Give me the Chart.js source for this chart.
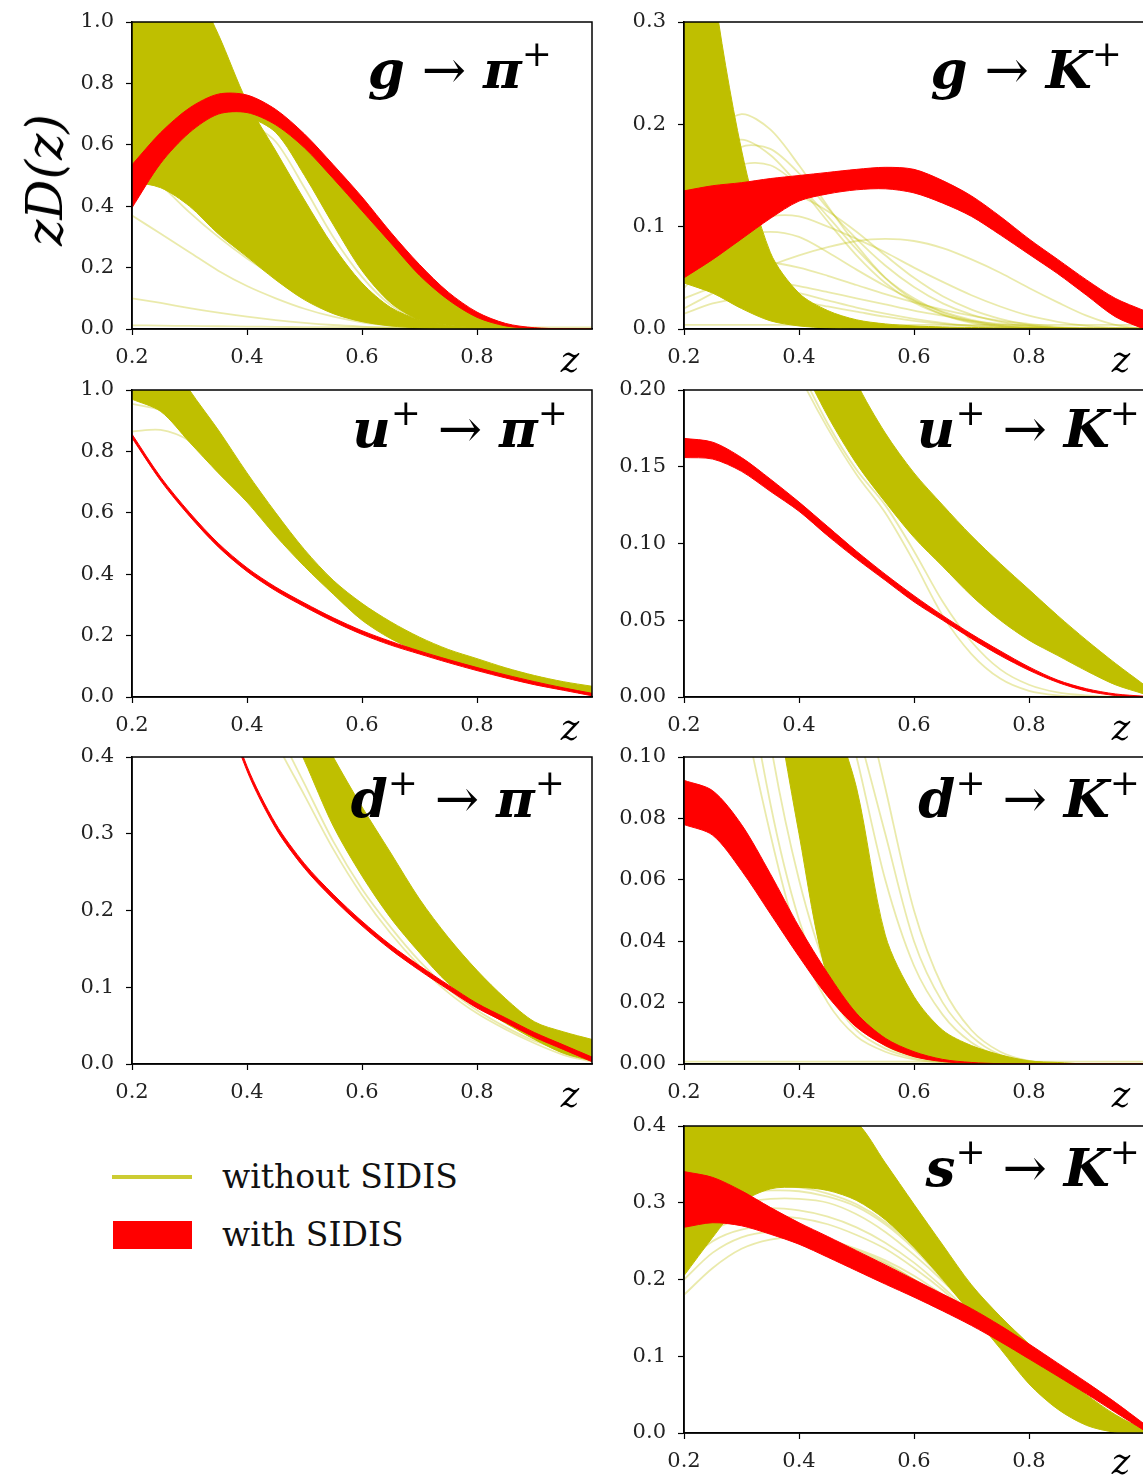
<!DOCTYPE html>
<html>
<head>
<meta charset="utf-8">
<script src="https://cdn.jsdelivr.net/npm/chart.js@4.4.1/dist/chart.umd.min.js"></script>
<style>
  html, body { margin: 0; padding: 0; background: #fff; }
  body { position: relative; width: 1143px; height: 1477px; overflow: hidden; }
  .panel { position: absolute; }
  .ttl { position: absolute; font-family: 'DejaVu Serif', serif; font-size: 53px; line-height: 1; white-space: nowrap; color: #000; }
  .ttl .m { font-weight: bold; font-style: italic; }
  .ttl sup { font-size: 0.68em; vertical-align: 0.6em; line-height: 0; }
  .zlab { position: absolute; font-family: 'DejaVu Serif', serif; font-style: italic; font-size: 35px; line-height: 1; color: #000; transform: translateX(-50%); }
  .ylab { position: absolute; left: 45px; top: 180px; font-family: 'DejaVu Serif', serif; font-style: italic; font-size: 50px; line-height: 1; white-space: nowrap; transform: translate(-50%, -50%) rotate(-90deg); }
  .leg { position: absolute; font-family: 'DejaVu Serif', serif; font-size: 33px; line-height: 1; white-space: nowrap; color: #111; }
</style>
</head>
<body>

<div class="ylab">zD(z)</div>

<div class="ttl" style="right:591px;top:43px"><span class="m">g</span> → <span class="m">π</span><sup>+</sup></div>
<div class="ttl" style="right:21px;top:43px"><span class="m">g</span> → <span class="m">K</span><sup>+</sup></div>
<div class="ttl" style="right:575px;top:402px"><span class="m">u</span><sup>+</sup> → <span class="m">π</span><sup>+</sup></div>
<div class="ttl" style="right:3px;top:402px"><span class="m">u</span><sup>+</sup> → <span class="m">K</span><sup>+</sup></div>
<div class="ttl" style="right:578px;top:772px"><span class="m">d</span><sup>+</sup> → <span class="m">π</span><sup>+</sup></div>
<div class="ttl" style="right:3px;top:772px"><span class="m">d</span><sup>+</sup> → <span class="m">K</span><sup>+</sup></div>
<div class="ttl" style="right:3px;top:1141px"><span class="m">s</span><sup>+</sup> → <span class="m">K</span><sup>+</sup></div>

<div class="zlab" style="left:570px;top:343px">z</div>
<div class="zlab" style="left:1121px;top:343px">z</div>
<div class="zlab" style="left:570px;top:711px">z</div>
<div class="zlab" style="left:1121px;top:711px">z</div>
<div class="zlab" style="left:570px;top:1078px">z</div>
<div class="zlab" style="left:1121px;top:1078px">z</div>
<div class="zlab" style="left:1121px;top:1445px">z</div>

<!-- legend -->
<div style="position:absolute;left:112px;top:1175px;width:80px;height:4px;background:rgba(191,191,0,0.8)"></div>
<div class="leg" style="left:222px;top:1160px">without SIDIS</div>
<div style="position:absolute;left:113px;top:1221px;width:79px;height:28px;background:#ff0000"></div>
<div class="leg" style="left:222px;top:1218px">with SIDIS</div>

<script>
// common z grid
const zGrid = [0.2, 0.25, 0.3, 0.35, 0.4, 0.45, 0.5, 0.55, 0.6, 0.65, 0.7, 0.75, 0.8, 0.85, 0.9, 0.95, 1.0];

// ---- g -> pi+ ----
const gPiRedHi = [0.535, 0.64, 0.72, 0.765, 0.762, 0.715, 0.635, 0.535, 0.43, 0.315, 0.21, 0.12, 0.055, 0.018, 0.004, 0.001, 0];
const gPiRedLo = [0.395, 0.54, 0.64, 0.70, 0.705, 0.665, 0.59, 0.49, 0.385, 0.28, 0.175, 0.095, 0.038, 0.01, 0.002, 0, 0];
const gPiOliveHi = [1.4, 1.3, 1.15, 0.96, 0.74, 0.58, 0.42, 0.27, 0.15, 0.07, 0.03, 0.011, 0.003, 0, 0, 0, 0];
const gPiOliveLo = [0.48, 0.46, 0.40, 0.31, 0.235, 0.16, 0.095, 0.05, 0.024, 0.01, 0.004, 0.001, 0, 0, 0, 0, 0];
const gPiStripHi = [0.5, 0.6, 0.68, 0.72, 0.72, 0.68, 0.6, 0.5, 0.395, 0.29, 0.185, 0.1, 0.042, 0.012, 0.003, 0.001, 0];
const gPiStripLo = [0.45, 0.55, 0.64, 0.69, 0.69, 0.64, 0.5, 0.34, 0.19, 0.085, 0.03, 0.012, 0.004, 0.001, 0, 0, 0];
const gPiRep1 = [0.37, 0.31, 0.25, 0.19, 0.14, 0.1, 0.066, 0.04, 0.022, 0.011, 0.005, 0.002, 0.0005, 0, 0, 0, 0];
const gPiRep2 = [0.1, 0.085, 0.068, 0.053, 0.04, 0.029, 0.02, 0.013, 0.008, 0.004, 0.002, 0.001, 0, 0, 0, 0, 0];
const gPiRep3 = [0.012, 0.011, 0.01, 0.009, 0.008, 0.007, 0.006, 0.006, 0.005, 0.005, 0.005, 0.005, 0.005, 0.005, 0.005, 0.005, 0.005];
const gPiRep4 = [0.55, 0.47, 0.38, 0.3, 0.23, 0.17, 0.12, 0.08, 0.05, 0.028, 0.014, 0.006, 0.002, 0, 0, 0, 0];
const gPiRep5 = [0.6, 0.52, 0.44, 0.36, 0.29, 0.22, 0.16, 0.11, 0.07, 0.04, 0.02, 0.008, 0.003, 0.001, 0, 0, 0];
const gPiRep6 = [0.95, 0.9, 0.84, 0.76, 0.68, 0.61, 0.46, 0.3, 0.17, 0.078, 0.03, 0.01, 0.003, 0.001, 0, 0, 0];

// ---- g -> K+ ----
const gKRedHi = [0.135, 0.14, 0.143, 0.147, 0.15, 0.153, 0.156, 0.158, 0.156, 0.145, 0.13, 0.11, 0.088, 0.068, 0.048, 0.03, 0.018];
const gKRedLo = [0.05, 0.068, 0.088, 0.108, 0.125, 0.132, 0.136, 0.137, 0.133, 0.123, 0.11, 0.092, 0.073, 0.054, 0.033, 0.012, 0];
const gKOliveHi = [0.6, 0.34, 0.175, 0.075, 0.035, 0.018, 0.009, 0.005, 0.003, 0.002, 0.0015, 0.001, 0.001, 0.001, 0.001, 0.001, 0.001];
const gKOliveLo = [0.045, 0.035, 0.02, 0.008, 0.003, 0.001, 0, 0, 0, 0, 0, 0, 0, 0, 0, 0, 0];
const gKRep1 = [0.13, 0.19, 0.21, 0.195, 0.16, 0.12, 0.082, 0.05, 0.028, 0.014, 0.006, 0.002, 0.001, 0, 0, 0, 0];
const gKRep2 = [0.1, 0.15, 0.178, 0.176, 0.152, 0.118, 0.088, 0.062, 0.041, 0.025, 0.014, 0.007, 0.003, 0.001, 0, 0, 0];
const gKRep3 = [0.08, 0.13, 0.16, 0.16, 0.14, 0.11, 0.078, 0.05, 0.03, 0.016, 0.008, 0.003, 0.001, 0, 0, 0, 0];
const gKRep4 = [0.06, 0.08, 0.1, 0.11, 0.11, 0.1, 0.088, 0.075, 0.06, 0.046, 0.033, 0.022, 0.013, 0.007, 0.003, 0.001, 0];
const gKRep5 = [0.02, 0.035, 0.05, 0.062, 0.072, 0.08, 0.086, 0.088, 0.086, 0.079, 0.068, 0.055, 0.04, 0.026, 0.013, 0.004, 0];
const gKRep6 = [0.045, 0.05, 0.05, 0.047, 0.042, 0.036, 0.03, 0.024, 0.018, 0.013, 0.008, 0.005, 0.003, 0.001, 0, 0, 0];
const gKRep7 = [0.04, 0.07, 0.09, 0.095, 0.09, 0.075, 0.058, 0.042, 0.028, 0.017, 0.009, 0.004, 0.002, 0.001, 0, 0, 0];
const gKRep8 = [0.004, 0.004, 0.004, 0.004, 0.004, 0.004, 0.004, 0.004, 0.004, 0.004, 0.004, 0.004, 0.004, 0.004, 0.004, 0.004, 0.004];
const gKRep9 = [0.12, 0.17, 0.185, 0.17, 0.14, 0.105, 0.072, 0.045, 0.026, 0.014, 0.007, 0.003, 0.001, 0, 0, 0, 0];
const gKRep10 = [0.07, 0.1, 0.125, 0.135, 0.13, 0.115, 0.095, 0.072, 0.05, 0.032, 0.019, 0.01, 0.004, 0.001, 0, 0, 0];
const gKRep11 = [0.03, 0.04, 0.042, 0.04, 0.035, 0.028, 0.021, 0.015, 0.01, 0.006, 0.003, 0.001, 0, 0, 0, 0, 0];
const gKRep12 = [0.015, 0.025, 0.03, 0.03, 0.027, 0.022, 0.017, 0.012, 0.008, 0.005, 0.003, 0.002, 0.001, 0, 0, 0, 0];
const gKRep13 = [0.05, 0.06, 0.065, 0.065, 0.06, 0.052, 0.043, 0.034, 0.026, 0.019, 0.013, 0.008, 0.005, 0.002, 0.001, 0, 0];

// ---- u+ -> pi+ ----
const uPiRedHi = [0.856, 0.716, 0.601, 0.501, 0.421, 0.358, 0.306, 0.258, 0.216, 0.181, 0.15, 0.122, 0.096, 0.072, 0.05, 0.03, 0.012];
const uPiRedLo = [0.844, 0.704, 0.589, 0.489, 0.409, 0.346, 0.294, 0.246, 0.204, 0.169, 0.14, 0.112, 0.086, 0.062, 0.04, 0.022, 0.004];
const uPiOliveHi = [1.3, 1.15, 1.0, 0.87, 0.73, 0.6, 0.48, 0.38, 0.305, 0.245, 0.195, 0.155, 0.125, 0.095, 0.07, 0.05, 0.035];
const uPiOliveLo = [0.97, 0.93, 0.83, 0.73, 0.635, 0.525, 0.425, 0.335, 0.25, 0.19, 0.148, 0.117, 0.091, 0.068, 0.046, 0.027, 0.012];
const uPiRep1 = [0.955, 0.935, 0.89, 0.8, 0.69, 0.57, 0.46, 0.36, 0.27, 0.2, 0.15, 0.118, 0.091, 0.068, 0.046, 0.027, 0.012];
const uPiRep2 = [0.865, 0.87, 0.835, 0.76, 0.665, 0.555, 0.45, 0.355, 0.265, 0.195, 0.148, 0.117, 0.091, 0.068, 0.046, 0.027, 0.012];

// ---- u+ -> K+ ----
const uKRedHi = [0.1685, 0.166, 0.156, 0.142, 0.127, 0.111, 0.095, 0.08, 0.066, 0.053, 0.041, 0.03, 0.0196, 0.011, 0.0054, 0.002, 0.0005];
const uKRedLo = [0.156, 0.155, 0.147, 0.134, 0.121, 0.105, 0.09, 0.076, 0.062, 0.05, 0.038, 0.027, 0.0174, 0.0095, 0.0039, 0.001, 0];
const uKOliveHi = [0.5, 0.44, 0.39, 0.34, 0.3, 0.25, 0.205, 0.172, 0.146, 0.125, 0.105, 0.087, 0.07, 0.053, 0.037, 0.022, 0.008];
const uKOliveLo = [0.4, 0.35, 0.3, 0.26, 0.22, 0.183, 0.152, 0.127, 0.104, 0.085, 0.066, 0.05, 0.037, 0.027, 0.017, 0.008, 0.002];
const uKRep1 = [0.4, 0.34, 0.29, 0.25, 0.21, 0.175, 0.145, 0.12, 0.088, 0.053, 0.028, 0.012, 0.004, 0.001, 0, 0, 0];
const uKRep2 = [0.41, 0.35, 0.3, 0.255, 0.215, 0.178, 0.148, 0.125, 0.095, 0.062, 0.036, 0.018, 0.008, 0.003, 0.001, 0, 0];

// ---- d+ -> pi+ ----
const dPiRedHi = [1.053, 0.823, 0.638, 0.498, 0.388, 0.313, 0.261, 0.221, 0.186, 0.155, 0.128, 0.103, 0.079, 0.06, 0.041, 0.025, 0.009];
const dPiRedLo = [1.047, 0.817, 0.632, 0.492, 0.382, 0.307, 0.255, 0.215, 0.18, 0.149, 0.122, 0.097, 0.073, 0.054, 0.035, 0.019, 0.003];
const dPiOliveHi = [1.3, 1.1, 0.9, 0.74, 0.62, 0.54, 0.47, 0.4, 0.335, 0.275, 0.215, 0.165, 0.122, 0.085, 0.055, 0.042, 0.032];
const dPiOliveLo = [1.0, 0.86, 0.74, 0.64, 0.55, 0.475, 0.395, 0.31, 0.245, 0.19, 0.145, 0.105, 0.076, 0.053, 0.032, 0.014, 0.004];
const dPiRep1 = [0.95, 0.8, 0.68, 0.58, 0.5, 0.42, 0.35, 0.28, 0.22, 0.17, 0.128, 0.093, 0.066, 0.045, 0.027, 0.012, 0.003];
const dPiRep2 = [0.98, 0.83, 0.7, 0.6, 0.52, 0.44, 0.365, 0.29, 0.228, 0.178, 0.134, 0.098, 0.07, 0.048, 0.03, 0.018, 0.012];

// ---- d+ -> K+ ----
const dKRedHi = [0.0924, 0.089, 0.078, 0.062, 0.0447, 0.0295, 0.0165, 0.0084, 0.004, 0.0015, 0.0005, 0.0001, 0, 0, 0, 0, 0];
const dKRedLo = [0.078, 0.0745, 0.063, 0.049, 0.035, 0.022, 0.012, 0.006, 0.0024, 0.0008, 0.0002, 0, 0, 0, 0, 0, 0];
const dKOliveHi = [0.6, 0.45, 0.32, 0.22, 0.16, 0.12, 0.09, 0.042, 0.022, 0.011, 0.006, 0.003, 0.001, 0.0005, 0, 0, 0];
const dKOliveLo = [0.45, 0.3, 0.2, 0.13, 0.075, 0.028, 0.014, 0.006, 0.0025, 0.001, 0.0003, 0, 0, 0, 0, 0, 0];
const dKRep1 = [0.35, 0.22, 0.14, 0.085, 0.047, 0.024, 0.011, 0.005, 0.002, 0.0007, 0, 0, 0, 0, 0, 0, 0];
const dKRep2 = [0.4, 0.26, 0.17, 0.105, 0.06, 0.03, 0.014, 0.006, 0.0025, 0.001, 0.0003, 0, 0, 0, 0, 0, 0];
const dKRep3 = [0.9, 0.6, 0.4, 0.27, 0.19, 0.14, 0.11, 0.075, 0.04, 0.02, 0.009, 0.003, 0.001, 0, 0, 0, 0];
const dKRep4 = [1.0, 0.7, 0.48, 0.33, 0.23, 0.17, 0.13, 0.09, 0.05, 0.025, 0.011, 0.004, 0.001, 0, 0, 0, 0];
const dKRep5 = [0.9, 0.6, 0.4, 0.27, 0.19, 0.135, 0.1, 0.06, 0.032, 0.016, 0.007, 0.0025, 0.0008, 0, 0, 0, 0];
const dKRep6 = [0.0008, 0.0008, 0.0008, 0.0008, 0.0008, 0.0008, 0.0008, 0.0008, 0.0008, 0.0008, 0.0008, 0.0008, 0.0008, 0.0008, 0.0008, 0.0008, 0.0008];
const dKRep7 = [0.3, 0.19, 0.12, 0.075, 0.04, 0.02, 0.009, 0.004, 0.0015, 0.0005, 0, 0, 0, 0, 0, 0, 0];

// ---- s+ -> K+ ----
const sKRedHi = [0.3406, 0.333, 0.3155, 0.294, 0.274, 0.256, 0.2375, 0.219, 0.2, 0.181, 0.162, 0.14, 0.116, 0.091, 0.066, 0.04, 0.012];
const sKRedLo = [0.268, 0.274, 0.27, 0.259, 0.246, 0.229, 0.2115, 0.194, 0.177, 0.159, 0.14, 0.119, 0.0966, 0.074, 0.051, 0.027, 0.0035];
const sKOliveHi = [0.45, 0.45, 0.45, 0.44, 0.43, 0.42, 0.405, 0.352, 0.298, 0.245, 0.193, 0.152, 0.116, 0.082, 0.05, 0.024, 0.004];
const sKOliveLo = [0.205, 0.255, 0.3, 0.318, 0.32, 0.316, 0.303, 0.278, 0.242, 0.2, 0.155, 0.11, 0.064, 0.031, 0.01, 0.001, 0];
const sKRep1 = [0.18, 0.215, 0.24, 0.252, 0.255, 0.25, 0.238, 0.222, 0.2, 0.175, 0.147, 0.118, 0.088, 0.058, 0.03, 0.01, 0];
const sKRep2 = [0.2, 0.235, 0.255, 0.262, 0.26, 0.252, 0.24, 0.225, 0.205, 0.18, 0.152, 0.122, 0.09, 0.06, 0.032, 0.012, 0];
const sKRep3 = [0.22, 0.25, 0.265, 0.268, 0.262, 0.25, 0.236, 0.22, 0.2, 0.177, 0.15, 0.12, 0.089, 0.059, 0.031, 0.011, 0];
const sKRep4 = [0.27, 0.29, 0.3, 0.305, 0.305, 0.3, 0.285, 0.262, 0.232, 0.198, 0.16, 0.12, 0.08, 0.045, 0.018, 0.004, 0];
const sKRep5 = [0.28, 0.3, 0.312, 0.316, 0.315, 0.308, 0.295, 0.272, 0.24, 0.2, 0.158, 0.115, 0.072, 0.036, 0.012, 0.002, 0];
const sKRep6 = [0.26, 0.28, 0.29, 0.293, 0.29, 0.282, 0.268, 0.248, 0.222, 0.19, 0.155, 0.118, 0.082, 0.048, 0.02, 0.005, 0];
const sKRep7 = [0.285, 0.305, 0.318, 0.322, 0.32, 0.312, 0.298, 0.275, 0.243, 0.203, 0.16, 0.116, 0.072, 0.035, 0.011, 0.002, 0];
const sKRep8 = [0.24, 0.265, 0.278, 0.282, 0.28, 0.272, 0.258, 0.24, 0.215, 0.186, 0.152, 0.117, 0.082, 0.048, 0.021, 0.006, 0];

const OLIVE = '#bfbf00';
const OLIVE_FAINT = 'rgba(191,191,0,0.33)';
const RED = '#ff0000';

// panel setup: plot box (left, top) in page pixels, y range, step, decimals
const panels = [
  { left: 132, top: 22,   yMax: 1.0, step: 0.2,  dec: 1, red: [gPiRedHi, gPiRedLo], olive: [[gPiOliveHi, gPiOliveLo], [gPiStripHi, gPiStripLo]], reps: [gPiRep1, gPiRep2, gPiRep3, gPiRep4, gPiRep5, gPiRep6] },
  { left: 684, top: 22,   yMax: 0.3, step: 0.1,  dec: 1, red: [gKRedHi, gKRedLo], olive: [[gKOliveHi, gKOliveLo]], reps: [gKRep1, gKRep2, gKRep3, gKRep4, gKRep5, gKRep6, gKRep7, gKRep8, gKRep9, gKRep10, gKRep11, gKRep12, gKRep13] },
  { left: 132, top: 390,  yMax: 1.0, step: 0.2,  dec: 1, red: [uPiRedHi, uPiRedLo], olive: [[uPiOliveHi, uPiOliveLo]], reps: [uPiRep1, uPiRep2] },
  { left: 684, top: 390,  yMax: 0.2, step: 0.05, dec: 2, red: [uKRedHi, uKRedLo], olive: [[uKOliveHi, uKOliveLo]], reps: [uKRep1, uKRep2] },
  { left: 132, top: 757,  yMax: 0.4, step: 0.1,  dec: 1, red: [dPiRedHi, dPiRedLo], olive: [[dPiOliveHi, dPiOliveLo]], reps: [dPiRep1, dPiRep2] },
  { left: 684, top: 757,  yMax: 0.1, step: 0.02, dec: 2, red: [dKRedHi, dKRedLo], olive: [[dKOliveHi, dKOliveLo]], reps: [dKRep1, dKRep2, dKRep3, dKRep4, dKRep5, dKRep6, dKRep7] },
  { left: 684, top: 1126, yMax: 0.4, step: 0.1,  dec: 1, red: [sKRedHi, sKRedLo], olive: [[sKOliveHi, sKOliveLo]], reps: [sKRep1, sKRep2, sKRep3, sKRep4, sKRep5, sKRep6, sKRep7, sKRep8] }
];

const PLOT_W = 460, PLOT_H = 307;
// room around the plot box; top is wide enough for the top tick label
const PAD_L = 70, PAD_T = 32, PAD_R = 10, PAD_B = 50;

function pts(vals) {
  return zGrid.map((z, i) => ({ x: z, y: vals[i] }));
}

function line(vals, color, width, order, fill) {
  return {
    data: pts(vals),
    borderColor: color,
    backgroundColor: color,
    borderWidth: width,
    pointRadius: 0,
    tension: 0.3,
    fill: fill || false,
    order: order
  };
}

// full box around the plot area
const frame = {
  id: 'frame',
  afterDraw(chart) {
    const a = chart.chartArea, c = chart.ctx;
    c.save();
    c.strokeStyle = '#000';
    c.lineWidth = 1.5;
    c.strokeRect(a.left, a.top, a.right - a.left, a.bottom - a.top);
    c.restore();
  }
};

const tickFont = { family: 'DejaVu Serif', size: 21 };

panels.forEach(p => {
  const box = document.createElement('div');
  box.className = 'panel';
  box.style.left = (p.left - PAD_L) + 'px';
  box.style.top = (p.top - PAD_T) + 'px';
  const cv = document.createElement('canvas');
  cv.width = PLOT_W + PAD_L + PAD_R;
  cv.height = PLOT_H + PAD_T + PAD_B;
  box.appendChild(cv);
  document.body.insertBefore(box, document.body.firstChild);

  const datasets = [];
  p.reps.forEach(r => datasets.push(line(r, OLIVE_FAINT, 1.8, 3)));
  p.olive.forEach(b => {
    datasets.push(line(b[0], OLIVE, 1, 2));
    datasets.push(line(b[1], OLIVE, 1, 2, '-1'));
  });
  datasets.push(line(p.red[0], RED, 1, 1));
  datasets.push(line(p.red[1], RED, 1, 1, '-1'));

  new Chart(cv, {
    type: 'line',
    data: { datasets: datasets },
    options: {
      responsive: false,
      animation: false,
      events: [],
      layout: { padding: { left: 0, top: PAD_T, right: PAD_R, bottom: 0 } },
      plugins: { legend: { display: false }, tooltip: { enabled: false } },
      scales: {
        x: {
          type: 'linear',
          min: 0.2,
          max: 1.0,
          afterFit: s => { s.height = PAD_B; },
          afterBuildTicks: s => { s.ticks = s.ticks.filter(t => t.value < 0.95); },
          grid: { drawOnChartArea: false, drawTicks: true, tickLength: 6, tickColor: '#000', tickWidth: 1.2 },
          border: { display: true, color: '#000', width: 1.5 },
          ticks: { stepSize: 0.2, maxRotation: 0, padding: 10, color: '#222', font: tickFont, callback: v => v.toFixed(1) }
        },
        y: {
          min: 0,
          max: p.yMax,
          afterFit: s => { s.width = PAD_L; },
          grid: { drawOnChartArea: false, drawTicks: true, tickLength: 6, tickColor: '#000', tickWidth: 1.2 },
          border: { display: true, color: '#000', width: 1.5 },
          ticks: { stepSize: p.step, padding: 12, color: '#222', font: tickFont, callback: v => v.toFixed(p.dec) }
        }
      }
    },
    plugins: [frame]
  });
});
</script>
</body>
</html>
